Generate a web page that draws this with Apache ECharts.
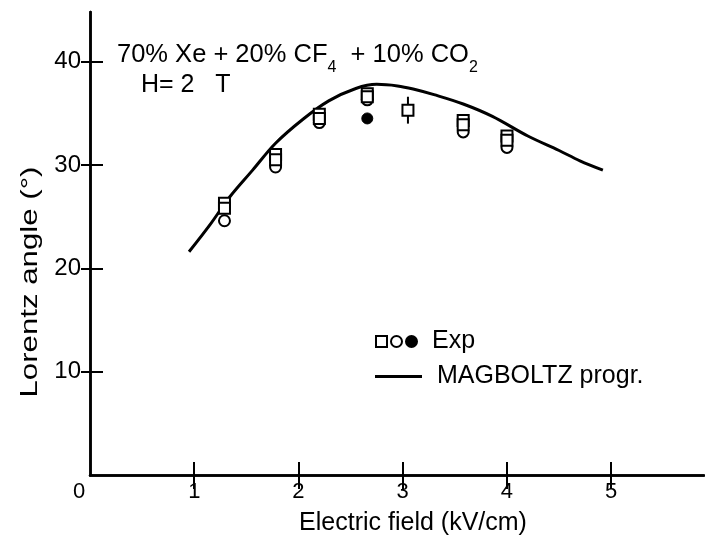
<!DOCTYPE html>
<html><head><meta charset="utf-8">
<script src="https://cdn.jsdelivr.net/npm/echarts@6/dist/echarts.min.js"></script>
<style>html,body{margin:0;padding:0;background:#fff}#c{width:705px;height:548px}</style>
</head><body><div id="c"></div>
<script>
// ---- data ----
const squareX = [1.29, 1.78, 2.20, 2.66, 3.05, 3.58, 4.00];
const squareY = [26.3, 31.0, 34.9, 36.9, 35.3, 34.3, 32.8];
const square2X = [1.29, 1.78, 2.20, 2.66, 3.58, 4.00];
const square2Y = [25.8, 30.5, 34.5, 36.6, 33.9, 32.4];
const circleX = [1.29, 1.78, 2.20, 2.66, 3.58, 4.00];
const circleY = [24.6, 29.8, 34.1, 36.3, 33.2, 31.7];
const filledX = [2.66];
const filledY = [34.5];
const errX = [3.05];
const errLow = [34.0];
const errHigh = [36.6];
const curveX = [0.95, 1.15, 1.34, 1.56, 1.78, 2.04, 2.29, 2.55, 2.75, 2.95, 3.10, 3.30, 3.58, 3.86, 4.20, 4.50, 4.70, 4.92];
const curveY = [21.6, 24.2, 26.9, 29.5, 32.1, 34.4, 36.2, 37.4, 37.8, 37.65, 37.35, 36.8, 35.9, 34.7, 32.8, 31.4, 30.4, 29.5];
const xTickValues = [1, 2, 3, 4, 5];
const xLabelValues = [0, 1, 2, 3, 4, 5];
const yTickValues = [10, 20, 30, 40];

const FONT = 'Liberation Sans, Arial, Helvetica, sans-serif';
const pairs = (xs, ys) => xs.map((x, i) => [x, ys[i]]);

const chart = echarts.init(document.getElementById('c'), null, {renderer: 'canvas'});
const axisLine = {show: true, lineStyle: {color: '#000', width: 2.5}};
const option = {
  animation: false,
  backgroundColor: '#fff',
  grid: {left: 90, right: 1, top: 12, bottom: 73, containLabel: false},
  xAxis: [{
    type: 'value', min: 0, max: 5.89, position: 'bottom',
    axisLine: axisLine,
    axisTick: {show: true, inside: true, length: 13, customValues: xTickValues, lineStyle: {color: '#000', width: 2}},
    axisLabel: {show: true, customValues: xLabelValues, margin: 6, color: '#000', fontSize: 22, fontFamily: FONT,
      formatter: v => v === 0 ? '{z|0}' : String(v),
      rich: {z: {padding: [0, 22, 0, 0], fontSize: 22, fontFamily: FONT, color: '#000'}}},
    splitLine: {show: false},
    name: 'Electric field (kV/cm)', nameLocation: 'middle', nameGap: 34,
    nameTextStyle: {color: '#000', fontSize: 25, fontFamily: FONT, lineHeight: 28, padding: [0, 0, 0, 32]}
  }, {
    type: 'value', min: 0, max: 5.89, position: 'top',
    axisLine: axisLine,
    axisTick: {show: true, inside: true, length: 14, customValues: xTickValues, lineStyle: {color: '#000', width: 2}},
    axisLabel: {show: false}, splitLine: {show: false}
  }],
  yAxis: [{
    type: 'value', min: 0, max: 44.8, position: 'left',
    axisLine: axisLine,
    axisTick: {show: true, inside: true, length: 13, customValues: yTickValues, lineStyle: {color: '#000', width: 2}},
    axisLabel: {show: true, customValues: yTickValues, margin: 9, color: '#000', fontSize: 24, fontFamily: FONT},
    splitLine: {show: false}
  }, {
    type: 'value', min: 0, max: 44.8, position: 'right',
    axisLine: axisLine,
    axisTick: {show: true, inside: true, length: 9, customValues: yTickValues, lineStyle: {color: '#000', width: 2}},
    axisLabel: {show: false}, splitLine: {show: false}
  }],
  legend: [{
    left: 375, top: 329, padding: 0, orient: 'horizontal', itemWidth: 11, itemHeight: 11, itemGap: 2,
    selectedMode: false,
    data: ['Exp (squares)', 'Exp (circles)', 'Exp'],
    formatter: n => n === 'Exp' ? '{e|Exp}' : '',
    textStyle: {color: '#000', fontSize: 25, fontFamily: FONT,
      rich: {e: {padding: [0, 0, 0, 10], fontSize: 25, fontFamily: FONT, color: '#000'}}}
  }, {
    left: 375, top: 364, padding: 0, orient: 'horizontal', itemWidth: 47, itemHeight: 3,
    selectedMode: false,
    data: [{name: 'MAGBOLTZ progr.', icon: 'rect', itemStyle: {color: '#000', borderWidth: 0}}],
    formatter: n => '{e|' + n + '}',
    textStyle: {color: '#000', fontSize: 25, fontFamily: FONT,
      rich: {e: {padding: [0, 0, 0, 10], fontSize: 25, fontFamily: FONT, color: '#000'}}}
  }],
  graphic: [{
    type: 'text', left: 117, top: 42, z: 10,
    style: {
      text: '{n|70% Xe + 20% CF}{s|4}{n|  + 10% CO}{s|2}',
      fill: '#000',
      rich: {
        n: {fontSize: 25.5, lineHeight: 30, verticalAlign: 'top', fontFamily: FONT, fill: '#000'},
        s: {fontSize: 16, padding: [18, 0, 0, 0], verticalAlign: 'top', fontFamily: FONT, fill: '#000'}
      }
    }
  }, {
    type: 'text', left: 141, top: 70, z: 10,
    style: {text: 'H= 2   T', fill: '#000', fontSize: 25, lineHeight: 30, fontFamily: FONT}
  }, {
    type: 'text', x: 30, y: 282, rotation: Math.PI / 2, scaleX: 1.3, scaleY: 1, z: 10,
    style: {text: 'Lorentz angle (°)', fill: '#000', fontSize: 24, fontFamily: FONT, align: 'center', verticalAlign: 'middle'}
  }],
  series: [{
    name: 'MAGBOLTZ progr.', type: 'line', xAxisIndex: 0, yAxisIndex: 0,
    data: pairs(curveX, curveY), smooth: 0.35, symbol: 'none', showSymbol: false,
    lineStyle: {color: '#000', width: 3}, itemStyle: {color: '#000'}, z: 2
  }, {
    name: 'error bar', type: 'custom', xAxisIndex: 0, yAxisIndex: 0, z: 3,
    data: errX.map((x, i) => [x, errLow[i], errHigh[i]]),
    encode: {x: 0, y: [1, 2]},
    renderItem: (params, api) => {
      const p1 = api.coord([api.value(0), api.value(1)]);
      const p2 = api.coord([api.value(0), api.value(2)]);
      return {type: 'line', shape: {x1: p1[0], y1: p1[1], x2: p2[0], y2: p2[1]}, style: {stroke: '#000', lineWidth: 2}};
    }
  }, {
    name: 'Exp (circles)', type: 'scatter', data: pairs(circleX, circleY), symbol: 'circle', symbolSize: 11,
    itemStyle: {color: '#fff', borderColor: '#000', borderWidth: 2, opacity: 1}, z: 4
  }, {
    name: 'Exp (squares)', type: 'scatter', data: pairs(squareX, squareY), symbol: 'rect', symbolSize: 11,
    itemStyle: {color: '#fff', borderColor: '#000', borderWidth: 2, opacity: 1}, z: 5
  }, {
    name: 'Exp (squares 2)', type: 'scatter', data: pairs(square2X, square2Y), symbol: 'rect', symbolSize: 11,
    itemStyle: {color: '#fff', borderColor: '#000', borderWidth: 2, opacity: 1}, z: 6
  }, {
    name: 'Exp', type: 'scatter', data: pairs(filledX, filledY), symbol: 'circle', symbolSize: 11,
    itemStyle: {color: '#000', borderColor: '#000', borderWidth: 1, opacity: 1}, z: 7
  }]
};
chart.setOption(option);
</script>
</body></html>
